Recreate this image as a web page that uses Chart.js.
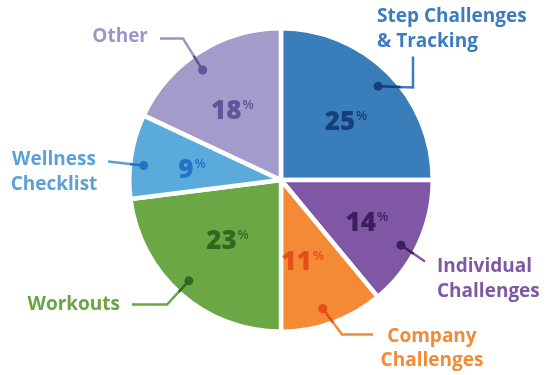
<!DOCTYPE html>
<html>
<head>
<meta charset="utf-8">
<script src="https://cdn.jsdelivr.net/npm/chart.js@4"></script>
<style>
  html, body { margin: 0; padding: 0; background: #fff; }
  #wrap { width: 554px; height: 375px; }
</style>
</head>
<body>
<div id="wrap"><canvas id="chart1"></canvas></div>
<script>
// data
const labels = [
  ['Step Challenges', '& Tracking'],
  ['Individual', 'Challenges'],
  ['Company', 'Challenges'],
  ['Workouts'],
  ['Wellness', 'Checklist'],
  ['Other']
];
const values = [25, 14, 11, 23, 9, 18];

// colours: slice, label text, dark (dot + percent)
const sliceColors = ['#3a7dbb', '#8057a4', '#f48a36', '#6ba745', '#5aaadc', '#a39bca'];
const textColors  = ['#3b7bbf', '#7f57a4', '#f38a36', '#6aa444', '#5aa1d6', '#9f95c6'];
const darkColors  = ['#163f7c', '#3b1f5e', '#e54e1b', '#2d6a1c', '#2373c5', '#62549a'];

// label layout: angle tweaks in degrees (from slice middle), radius fractions,
// leader points and text anchors relative to pie centre
const labelLayout = [
  { dotA: 1, dotR: 0.89, pctA: 2.6, pctR: 0.58, lead: [[132, -92.5], [132, -123.5]], align: 'left', tx: 96, ty: [-163.5, -138.5] },
  { dotA: 3.3, dotR: 0.90, pctA: 0.8, pctR: 0.63, lead: [[144, 81.5]], align: 'left', tx: 156, ty: [86.5, 112] },
  { dotA: 1.8, dotR: 0.89, pctA: 4.8, pctR: 0.55, lead: [[61, 154.5], [92, 154.5]], align: 'center', tx: 151, ty: [157, 181] },
  { dotA: 1, dotR: 0.90, pctA: 0.3, pctR: 0.53, lead: [[-114, 124.5], [-149, 124.5]], align: 'right', tx: -161, ty: [124.5] },
  { dotA: -3, dotR: 0.91, pctA: -2.2, pctR: 0.59, lead: [[-173, -18.5]], align: 'center', tx: -227, ty: [-20.5, 4.5] },
  { dotA: -3.1, dotR: 0.89, pctA: -2.6, pctR: 0.56, lead: [[-98, -141.5], [-121, -141.5]], align: 'right', tx: -133, ty: [-143.5] }
];

const FONT = '"Open Sans", Lato, sans-serif';

const sliceLabels = {
  id: 'sliceLabels',
  afterDatasetsDraw(chart) {
    const ctx = chart.ctx;
    const meta = chart.getDatasetMeta(0);
    meta.data.forEach((arc, i) => {
      const p = arc.getProps(['x', 'y', 'startAngle', 'endAngle', 'outerRadius'], true);
      const L = labelLayout[i];
      const mid = (p.startAngle + p.endAngle) / 2;
      const R = p.outerRadius;
      const da = L.dotA * Math.PI / 180;
      const dx = p.x + Math.cos(mid + da) * R * L.dotR;
      const dy = p.y + Math.sin(mid + da) * R * L.dotR;

      const path = () => {
        ctx.beginPath();
        ctx.moveTo(dx, dy);
        L.lead.forEach(pt => ctx.lineTo(p.x + pt[0], p.y + pt[1]));
      };
      ctx.save();
      ctx.lineWidth = 2.5;
      ctx.strokeStyle = textColors[i];
      path();
      ctx.stroke();
      // darker inside the slice
      ctx.beginPath();
      ctx.moveTo(p.x, p.y);
      ctx.arc(p.x, p.y, R, p.startAngle, p.endAngle);
      ctx.closePath();
      ctx.clip();
      ctx.strokeStyle = darkColors[i];
      path();
      ctx.stroke();
      ctx.restore();

      ctx.beginPath();
      ctx.fillStyle = darkColors[i];
      ctx.arc(dx, dy, 4.5, 0, Math.PI * 2);
      ctx.fill();

      // label text
      ctx.font = 'bold 19px ' + FONT;
      ctx.fillStyle = textColors[i];
      ctx.textAlign = L.align;
      ctx.textBaseline = 'middle';
      labels[i].forEach((line, k) => ctx.fillText(line, p.x + L.tx, p.y + L.ty[k]));

      // percent
      const pa = L.pctA * Math.PI / 180;
      const px = p.x + Math.cos(mid + pa) * R * L.pctR;
      const py = p.y + Math.sin(mid + pa) * R * L.pctR;
      const num = String(values[i]);
      ctx.font = '800 26px ' + FONT;
      const wN = ctx.measureText(num).width;
      ctx.font = '600 13px ' + FONT;
      const wP = ctx.measureText('%').width;
      const x0 = px - (wN + wP + 1) / 2;
      ctx.fillStyle = darkColors[i];
      ctx.textAlign = 'left';
      ctx.textBaseline = 'alphabetic';
      ctx.font = '800 26px ' + FONT;
      ctx.fillText(num, x0, py + 9);
      ctx.font = '600 13px ' + FONT;
      ctx.fillText('%', x0 + wN + 1, py - 1);
    });
  }
};

const config = {
  type: 'pie',
  data: {
    labels: labels,
    datasets: [{
      data: values,
      backgroundColor: sliceColors,
      borderColor: '#ffffff',
      borderWidth: 4.5,
      hoverOffset: 0
    }]
  },
  options: {
    responsive: true,
    maintainAspectRatio: false,
    animation: false,
    events: [],
    layout: { padding: { left: 127, right: 119, top: 26, bottom: 41 } },
    plugins: {
      legend: { display: false },
      tooltip: { enabled: false }
    }
  },
  plugins: [sliceLabels]
};

const ctx1 = document.getElementById('chart1').getContext('2d');
const chart1 = new Chart(ctx1, config);
</script>
</body>
</html>
